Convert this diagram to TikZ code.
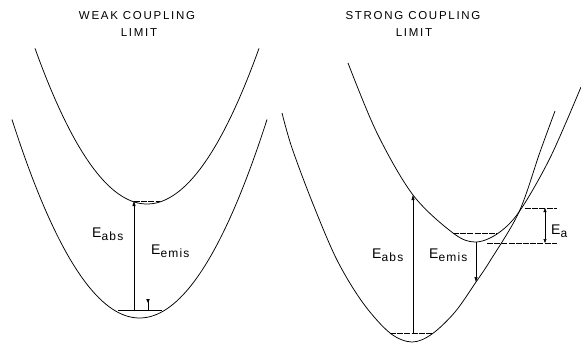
\documentclass[tikz,border=0pt]{standalone}
\usepackage{fontspec}
\setmainfont{Liberation Sans}
\usetikzlibrary{arrows.meta}
\newfontfamily\ttlfont[LetterSpace=15]{Liberation Sans}
\newfontfamily\lblfont[LetterSpace=10]{Liberation Sans}
\newcommand{\Elbl}[1]{{\lblfont\fontsize{14}{14}\selectfont E\raisebox{-3pt}{\fontsize{12}{12}\selectfont #1}}}
\begin{document}
\begin{tikzpicture}[x=1pt,y=-1pt,
  curve/.style={line width=0.75pt},
  lvl/.style={line width=0.6pt, dash pattern=on 6pt off 1.2pt},
  arr/.style={-{Triangle[length=5pt,width=3pt]}, line width=0.5pt},
  darr/.style={{Triangle[length=4pt,width=3pt]}-{Triangle[length=4pt,width=3pt]}, line width=0.5pt},
  ttl/.style={font=\ttlfont\fontsize{11.5}{12}\selectfont, inner sep=0pt},
  lbl/.style={inner sep=0pt, anchor=base west}]
\useasboundingbox (0,0) rectangle (581,343);

% ---------- titles ----------
\node[ttl] (tw1) at (137,16) {WEAK COUPLING};
\node[ttl] (tw2) at (139,33) {LIMIT};
\node[ttl] (ts1) at (413,16) {STRONG COUPLING};
\node[ttl] (ts2) at (414,33) {LIMIT};

% ---------- weak coupling ----------
\draw[curve] plot[domain=35:259, samples=80] (\x, {204-0.0124*(\x-147)^2});
\draw[curve] plot[domain=12:267, samples=80] (\x, {318-0.0122*(\x-139.5)^2});

\coordinate (wgl) at (118,310);
\coordinate (wgr) at (162,310);
\coordinate (wel) at (134,201);
\coordinate (wer) at (160,201);
\coordinate (wab) at (134,310);
\coordinate (wemt) at (148,299);
\coordinate (wemb) at (148,310);
\draw[line width=0.9pt] (wgl) -- (wgr);
\draw[lvl, line width=0.4pt] (wel) -- (wer);
\draw[arr] (wab) -- (wel);
\draw[line width=0.6pt] (wemb) -- (wemt);
\fill (146.2,299) -- (149.8,299) -- (148,303) -- cycle;

\node[lbl] (wlabs) at (92,237) {\Elbl{abs}};
\node[lbl] (wlemis) at (151,254) {\Elbl{emis}};

% ---------- strong coupling ----------
\draw[curve] plot[smooth, tension=0.55] coordinates {(282,113) (292,148) (313,204) (337,260) (363,303) (390,333) (412,342) (432,334) (455,312) (476,282) (490,261) (519,212) (540,152) (555,111)};
\draw[curve] plot[smooth, tension=0.55] coordinates {(348,63) (377,133) (413,195) (453,233) (475,242) (497,234) (519,212) (550,158) (581,87)};

\coordinate (sgl) at (390,333);
\coordinate (sgr) at (432,333);
\coordinate (sab) at (413,333);
\coordinate (sabt) at (413,195);
\coordinate (sel) at (453,233);
\coordinate (ser) at (497,233);
\coordinate (semt) at (476,242);
\coordinate (semb) at (476,282);
\coordinate (eat1) at (525,208);
\coordinate (eat2) at (557,208);
\coordinate (eab1) at (487,243);
\coordinate (eab2) at (557,243);
\coordinate (eaat) at (545,208);
\coordinate (eaab) at (545,243);

\draw[lvl, line width=0.5pt] (sgl) -- (sgr);
\draw[lvl] (sel) -- (ser);
\draw[arr] (sab) -- (sabt);
\draw[arr] (semt) -- (semb);
\draw[lvl] (eat1) -- (eat2);
\draw[lvl] (eab1) -- (eab2);
\draw[darr] (eaab) -- (eaat);

\node[lbl] (slabs) at (372,258) {\Elbl{abs}};
\node[lbl] (slemis) at (429,258) {\Elbl{emis}};
\node[lbl] (slea) at (551,234) {\Elbl{a}};
\end{tikzpicture}
\end{document}
